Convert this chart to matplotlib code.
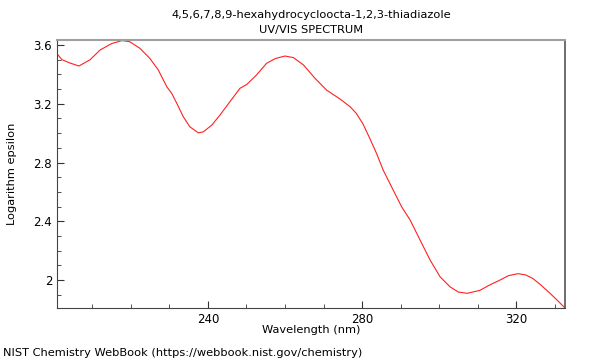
import numpy as np
import matplotlib.pyplot as plt
from matplotlib.ticker import MultipleLocator

# values
wavelength = [200.8, 202.1, 204.2, 206.5, 209.4, 212.0, 215.0, 217.7, 219.7, 222.3,
              224.9, 227.1, 229.3, 230.6, 231.9, 233.6, 235.3, 237.5, 238.8, 241.0,
              243.1, 245.7, 248.3, 250.1, 252.6, 255.2, 257.5, 260.0, 262.2, 264.8,
              267.8, 270.8, 274.3, 276.9, 278.5, 280.2, 282.0, 283.8, 285.5, 288.1,
              290.3, 292.5, 295.1, 297.7, 300.3, 302.9, 305.0, 307.3, 310.6, 313.0,
              315.8, 318.0, 320.5, 322.5, 324.4, 326.5, 328.8, 330.8, 332.7]
log_eps = [3.54, 3.50, 3.477, 3.457, 3.50, 3.566, 3.61, 3.63, 3.622, 3.578,
           3.509, 3.43, 3.316, 3.27, 3.203, 3.111, 3.043, 3.002, 3.009, 3.055,
           3.123, 3.214, 3.305, 3.332, 3.396, 3.475, 3.508, 3.525, 3.514, 3.464,
           3.373, 3.293, 3.232, 3.18, 3.135, 3.065, 2.965, 2.86, 2.748, 2.612,
           2.498, 2.408, 2.271, 2.135, 2.021, 1.953, 1.919, 1.91, 1.93, 1.965,
           2.0, 2.03, 2.044, 2.035, 2.01, 1.965, 1.91, 1.86, 1.81]

title = "4,5,6,7,8,9-hexahydrocycloocta-1,2,3-thiadiazole\nUV/VIS SPECTRUM"
x_ticks = [240, 280, 320]
y_ticks = [2.0, 2.4, 2.8, 3.2, 3.6]
y_tick_labels = ["2", "2.4", "2.8", "3.2", "3.6"]

fig = plt.figure(figsize=(6, 3.6), dpi=100)
ax = fig.add_axes([0.095, 0.1444, 0.8467, 0.7445])

ax.plot(wavelength, log_eps, color="#ff2020", lw=0.8)

ax.set_xlim(200.8, 332.7)
ax.set_ylim(1.81, 3.634)
ax.set_xticks(x_ticks)
ax.set_yticks(y_ticks)
ax.set_yticklabels(y_tick_labels)
ax.xaxis.set_minor_locator(MultipleLocator(10))
ax.yaxis.set_minor_locator(MultipleLocator(0.1))
ax.tick_params(which="both", direction="in", labelsize=8.5, colors="#333333")
ax.tick_params(which="major", length=5)
ax.tick_params(which="minor", length=3)
for lbl in ax.get_xticklabels() + ax.get_yticklabels():
    lbl.set_color("black")

ax.spines["top"].set_color("#a0a0a0")
ax.spines["top"].set_linewidth(1.5)
ax.spines["right"].set_color("#555555")
ax.spines["right"].set_linewidth(1.2)
ax.spines["left"].set_color("#444444")
ax.spines["bottom"].set_color("#444444")

ax.set_xlabel("Wavelength (nm)", fontsize=8.2)
ax.xaxis.set_label_coords(0.5, -0.064)
ax.set_ylabel("Logarithm epsilon", fontsize=8.2)
ax.yaxis.set_label_coords(-0.078, 0.5)
ax.set_title(title, fontsize=8.2, linespacing=1.6, pad=5)

fig.text(0.005, 0.01, "NIST Chemistry WebBook (https://webbook.nist.gov/chemistry)",
         fontsize=8.2)

plt.savefig("out.png", dpi=100)
